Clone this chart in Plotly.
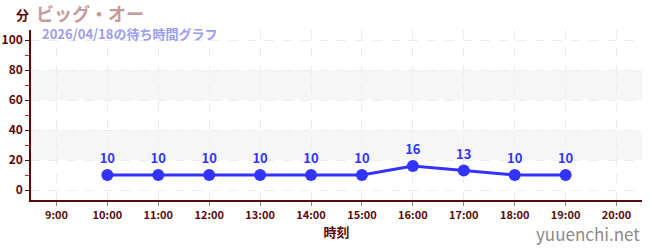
import plotly.graph_objects as go

# Wait times (minutes) by hour of day
hours = [10, 11, 12, 13, 14, 15, 16, 17, 18, 19]
wait_minutes = [10, 10, 10, 10, 10, 10, 16, 13, 10, 10]

tick_hours = list(range(9, 21))
tick_labels = [f"{h}:00" for h in tick_hours]
y_ticks = [0, 20, 40, 60, 80, 100]

title_text = "ビッグ・オー"
subtitle_text = "2026/04/18の待ち時間グラフ"
unit_text = "分"
x_title = "時刻"
site_text = "yuuenchi.net"

dark_red = "#5a0a0a"
line_blue = "#3333ff"
font_family = "Noto Sans CJK JP"

fig = go.Figure()

fig.add_trace(go.Scatter(
    x=hours,
    y=wait_minutes,
    mode="lines+markers+text",
    line=dict(color=line_blue, width=3),
    marker=dict(color=line_blue, size=12),
    text=[str(v) for v in wait_minutes],
    textposition="top center",
    textfont=dict(color=line_blue, size=13, family=font_family, weight="bold"),
    cliponaxis=False,
    hoverinfo="skip",
))

# Alternating background bands
for lo, hi in [(20, 40), (60, 80)]:
    fig.add_shape(type="rect", xref="paper", yref="y", x0=0, x1=1, y0=lo, y1=hi,
                  fillcolor="#f6f6f6", line=dict(width=0), layer="below")

fig.update_layout(
    width=650, height=250,
    margin=dict(l=31, r=8, t=30, b=50),
    paper_bgcolor="white",
    plot_bgcolor="white",
    showlegend=False,
    font=dict(family=font_family),
    xaxis=dict(
        range=[8.5, 20.5],
        automargin=False,
        tickvals=tick_hours,
        ticktext=tick_labels,
        tickfont=dict(color=dark_red, size=11, family=font_family, weight="bold"),
        ticks="outside", ticklen=4, tickcolor="#888", tickwidth=1,
        showgrid=True, gridcolor="#ececec", griddash="dash", gridwidth=1,
        showline=True, linecolor=dark_red, linewidth=1.5,
        zeroline=False,
        title=dict(text=x_title, font=dict(color=dark_red, size=13, family=font_family, weight="bold"),
                   standoff=5),
    ),
    yaxis=dict(
        range=[-6.67, 106.67],
        automargin=False,
        tickvals=y_ticks,
        tickfont=dict(color=dark_red, size=12, family=font_family, weight="bold"),
        ticks="outside", ticklen=4, tickcolor="#222", tickwidth=1,
        minor=dict(dtick=10, tick0=0, ticks="outside", ticklen=4, tickcolor="#dd2222", showgrid=False),
        showgrid=True, gridcolor="#ececec", griddash="dash", gridwidth=1,
        showline=True, linecolor=dark_red, linewidth=1.5,
        zeroline=False,
    ),
    annotations=[
        dict(text=unit_text, xref="paper", yref="paper", x=-0.028, y=1.0, yshift=16,
             xanchor="left", yanchor="middle", showarrow=False,
             font=dict(color=dark_red, size=13, family=font_family, weight="bold")),
        dict(text=title_text, xref="paper", yref="paper", x=0.005, y=1.0, yshift=17,
             xanchor="left", yanchor="middle", showarrow=False,
             font=dict(color="#c49a9a", size=18, family=font_family, weight="bold")),
        dict(text=subtitle_text, xref="paper", yref="paper", x=0.014, y=1.0, yshift=-3,
             xanchor="left", yanchor="middle", showarrow=False,
             font=dict(color="#9c9cf0", size=13, family=font_family, weight="bold")),
        dict(text=site_text, xref="paper", yref="paper", x=1.0, y=0, yshift=-33,
             xanchor="right", yanchor="middle", showarrow=False,
             font=dict(color="#8a8a8a", size=17, family=font_family)),
    ],
)

fig.write_html("out.html")
